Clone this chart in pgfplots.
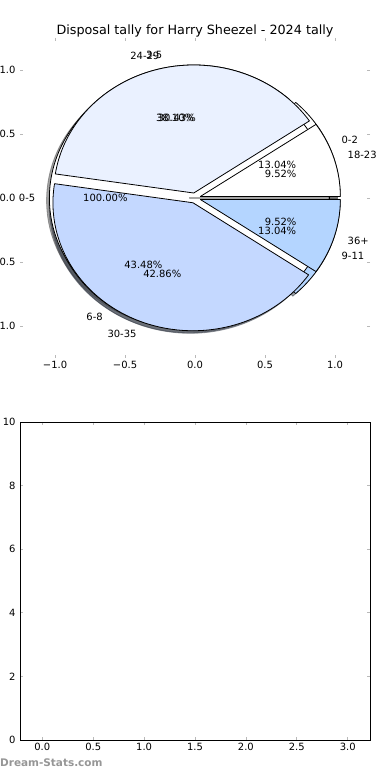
\documentclass[border=0pt]{standalone}
\usepackage{pgfplots}
\pgfplotsset{compat=1.18}
\usepackage{fontspec}
\setmainfont{DejaVu Sans}
\definecolor{cW}{RGB}{255,255,255}
\definecolor{cA}{RGB}{234,241,255}
\definecolor{cB}{RGB}{196,216,255}
\definecolor{cC}{RGB}{180,213,255}
\definecolor{tickgray}{RGB}{185,185,185}
\definecolor{wm}{RGB}{150,150,150}

% pies: value/label/colour
\def\pieTwo{3/0-2/cW, 7/3-5/cA, 10/6-8/cB, 3/9-11/cC}
\def\pieThree{1/0-5/cW}
\def\pieOne{2/18-23/cW, 8/24-29/cA, 9/30-35/cB, 2/36+/cC}

\def\pieExplode{0.04}
\def\pieRX{140bp}
\def\pieRY{128bp}

\newcommand\piepass[2]{%
  \gdef\pieTot{0}%
  \foreach \v/\lab/\col in #1 {\pgfmathparse{\pieTot+\v}\xdef\pieTot{\pgfmathresult}}%
  \gdef\pieStart{0}%
  \foreach \v/\lab/\col in #1 {%
    \pgfmathsetmacro\a{\pieStart}%
    \pgfmathsetmacro\b{\pieStart+360*\v/\pieTot}%
    \pgfmathsetmacro\m{(\a+\b)/2}%
    \pgfmathsetmacro\cx{\pieExplode*cos(\m)}%
    \pgfmathsetmacro\cy{\pieExplode*sin(\m)}%
    \ifcase#2
      \pgfmathsetmacro\scx{\cx-0.02}%
      \pgfmathsetmacro\scy{\cy-0.02}%
      \pgfmathsetmacro\sx{\scx+cos(\a)}%
      \pgfmathsetmacro\sy{\scy+sin(\a)}%
      \filldraw[fill=\col!30!black, draw=\col!30!black, opacity=0.5, line width=0.8bp]
        (axis cs:\scx,\scy) -- (axis cs:\sx,\sy)
        arc[start angle=\a, end angle=\b, x radius=\pieRX, y radius=\pieRY] -- cycle;
    \or
      \pgfmathsetmacro\sx{\cx+cos(\a)}%
      \pgfmathsetmacro\sy{\cy+sin(\a)}%
      \filldraw[fill=\col, draw=black, line width=0.8bp, line join=round]
        (axis cs:\cx,\cy) -- (axis cs:\sx,\sy)
        arc[start angle=\a, end angle=\b, x radius=\pieRX, y radius=\pieRY] -- cycle;
    \or
      \pgfmathsetmacro\tx{(\pieExplode+1.1)*cos(\m)}%
      \pgfmathsetmacro\ty{(\pieExplode+1.1)*sin(\m)}%
      \pgfmathsetmacro\px{(\pieExplode+0.6)*cos(\m)}%
      \pgfmathsetmacro\py{(\pieExplode+0.6)*sin(\m)}%
      \pgfmathsetmacro\pct{100*\v/\pieTot}%
      \ifdim\tx pt>0pt \def\anch{west}\else\def\anch{east}\fi
      \node[anchor=\anch, inner sep=0pt, font=\fontsize{10}{12}\selectfont] at (axis cs:\tx,\ty) {\lab};
      \node[anchor=center, inner sep=0pt, font=\fontsize{10}{12}\selectfont] at (axis cs:\px,\py)
        {\pgfmathprintnumber[fixed,fixed zerofill,precision=2,assume math mode=true]{\pct}\%};
    \fi
    \xdef\pieStart{\b}%
  }%
}

\begin{document}
\begin{tikzpicture}
\path[use as bounding box] (0,0) rectangle (390bp,780bp);
\begin{axis}[
  at={(20bp,422bp)}, anchor=south west, scale only axis,
  width=350bp, height=320bp,
  xmin=-1.25, xmax=1.25, ymin=-1.25, ymax=1.25,
  clip=false,
  axis line style={draw=none},
  xtick={-1,-0.5,0,0.5,1}, xticklabels={−1.0,−0.5,0.0,0.5,1.0},
  ytick={-1,-0.5,0,0.5,1}, yticklabels={−1.0,−0.5,0.0,0.5,1.0},
  tick style={draw=tickgray, line width=0.8bp},
  major tick length=3bp, tick align=inside, tick pos=both,
  xticklabel pos=bottom, yticklabel pos=left,
  ticklabel style={font=\fontsize{10}{12}\selectfont},
  yticklabel style={xshift=-1bp},
  every axis title shift=0pt,
  title={Disposal tally for Harry Sheezel - 2024 tally},
  title style={font=\fontsize{12.8}{14}\selectfont, at={(0.5,1)}, anchor=base, yshift=3.5bp},
]
\pgfplotsextra{%
  \piepass{\pieTwo}{0}\piepass{\pieThree}{0}\piepass{\pieOne}{0}%
  \piepass{\pieTwo}{1}\piepass{\pieThree}{1}\piepass{\pieOne}{1}%
  \piepass{\pieTwo}{2}\piepass{\pieThree}{2}\piepass{\pieOne}{2}%
}
\end{axis}
\begin{axis}[
  at={(20bp,40bp)}, anchor=south west, scale only axis,
  width=350bp, height=318bp,
  xmin=-0.219, xmax=3.219, ymin=0, ymax=10,
  axis line style={draw=black, line width=0.8bp},
  xtick={0,0.5,1,1.5,2,2.5,3}, xticklabels={0.0,0.5,1.0,1.5,2.0,2.5,3.0},
  ytick={0,2,4,6,8,10}, yticklabels={0,2,4,6,8,10},
  tick style={draw=tickgray, line width=0.8bp},
  major tick length=3bp, tick align=inside, tick pos=both,
  xticklabel pos=bottom, yticklabel pos=left,
  ticklabel style={font=\fontsize{10}{12}\selectfont},
  yticklabel style={xshift=-1bp},
]
\end{axis}
\node[anchor=west, inner sep=0pt, text=wm, font=\bfseries\fontsize{10.5}{12}\selectfont] at (0bp,17bp) {Dream-Stats.com};
\end{tikzpicture}
\end{document}
